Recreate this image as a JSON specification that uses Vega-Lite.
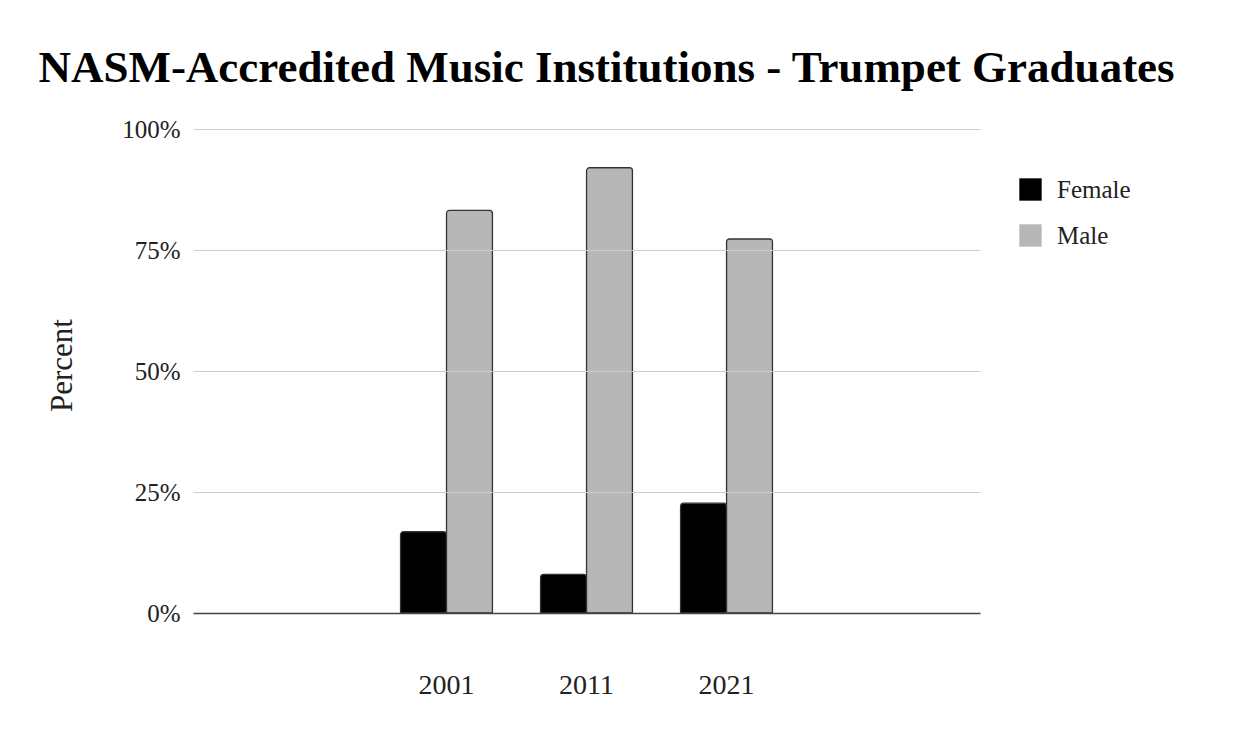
{
  "$schema": "https://vega.github.io/schema/vega-lite/v6.json",
  "width": 787,
  "height": 484,
  "autosize": {"type": "none"},
  "padding": {"left": 193, "top": 129, "right": 266, "bottom": 121},
  "background": "white",
  "title": {
    "text": "NASM-Accredited Music Institutions - Trumpet Graduates",
    "font": "Liberation Serif",
    "fontSize": 45,
    "fontWeight": "bold",
    "color": "#000000",
    "anchor": "middle",
    "dx": 20,
    "offset": 26
  },
  "data": {
    "values": [
      {"year": "2001", "gender": "Female", "value": 0.168},
      {"year": "2001", "gender": "Male", "value": 0.832},
      {"year": "2011", "gender": "Female", "value": 0.08},
      {"year": "2011", "gender": "Male", "value": 0.92},
      {"year": "2021", "gender": "Female", "value": 0.227},
      {"year": "2021", "gender": "Male", "value": 0.773}
    ]
  },
  "mark": {
    "type": "bar",
    "stroke": "#333333",
    "strokeWidth": 1.2,
    "cornerRadiusTopLeft": 3,
    "cornerRadiusTopRight": 3
  },
  "encoding": {
    "x": {
      "field": "year",
      "type": "nominal",
      "scale": {"domain": ["1991", "2001", "2011", "2021", "2031"], "paddingInner": 0.343, "paddingOuter": 0.482},
      "axis": {
        "title": null,
        "labelAngle": 0,
        "labelExpr": "indexof(['2001','2011','2021'], datum.value) >= 0 ? datum.value : ''",
        "labelFont": "Liberation Serif",
        "labelFontSize": 28,
        "labelColor": "#222222",
        "ticks": false,
        "tickSize": 0,
        "labelPadding": 58,
        "domain": false
      }
    },
    "xOffset": {"field": "gender", "type": "nominal", "scale": {"paddingInner": 0, "paddingOuter": 0}},
    "y": {
      "field": "value",
      "type": "quantitative",
      "scale": {"domain": [0, 1]},
      "axis": {
        "title": "Percent",
        "titleFont": "Liberation Serif",
        "titleFontSize": 31,
        "titleFontWeight": "normal",
        "titleColor": "#222222",
        "titlePadding": 43,
        "titleY": 236,
        "values": [0, 0.25, 0.5, 0.75, 1],
        "format": ".0%",
        "labelFont": "Liberation Serif",
        "labelFontSize": 25,
        "labelColor": "#222222",
        "labelPadding": 13,
        "ticks": false,
        "domain": false,
        "grid": true,
        "gridColor": {"condition": {"test": "datum.value === 0", "value": "#444444"}, "value": "#cccccc"},
        "gridWidth": {"condition": {"test": "datum.value === 0", "value": 1.5}, "value": 1},
        "zindex": 1
      }
    },
    "color": {
      "field": "gender",
      "type": "nominal",
      "scale": {"domain": ["Female", "Male"], "range": ["#000000", "#b7b7b7"]},
      "legend": {
        "title": null,
        "orient": "none",
        "legendX": 825,
        "legendY": 48,
        "symbolType": "square",
        "symbolSize": 500,
        "symbolStrokeWidth": 0,
        "symbolOpacity": 1,
        "labelFont": "Liberation Serif",
        "labelFontSize": 25,
        "labelColor": "#222222",
        "labelOffset": 14,
        "rowPadding": 20,
        "padding": 0
      }
    }
  },
  "config": {"view": {"stroke": null}}
}
